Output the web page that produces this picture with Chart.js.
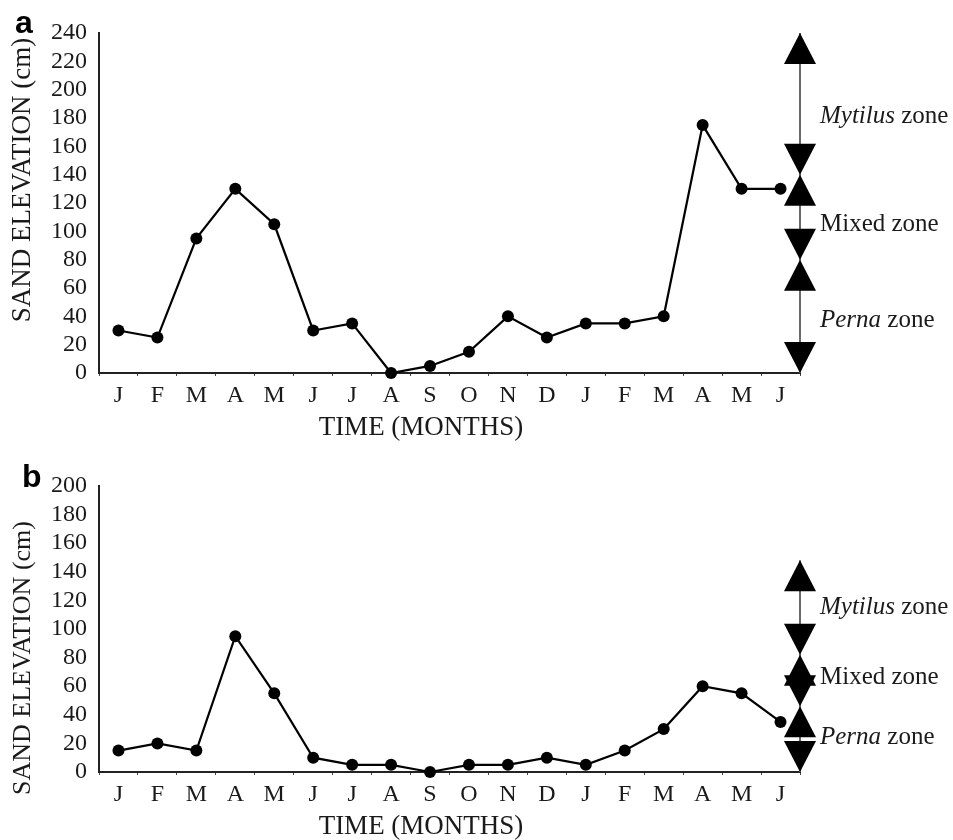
<!DOCTYPE html>
<html><head><meta charset="utf-8">
<script src="https://cdn.jsdelivr.net/npm/chart.js@4.4.0/dist/chart.umd.min.js"></script>
<style>
html,body{margin:0;padding:0;background:#fff}
body{width:953px;height:840px;position:relative;overflow:hidden}
canvas{position:absolute;left:0}
</style></head><body>
<canvas id="cA" width="953" height="450" style="top:0px"></canvas>
<canvas id="cB" width="953" height="390" style="top:450px"></canvas>
<script>
// ---- data ----
const months = ['J','F','M','A','M','J','J','A','S','O','N','D','J','F','M','A','M','J'];
const elevationA = [30,25,95,130,105,30,35,0,5,15,40,25,35,35,40,175,130,130];
const elevationB = [15,20,15,95,55,10,5,5,0,5,5,10,5,15,30,60,55,35];
const yMaxA = 240, yMaxB = 200, yStep = 20;
const zoneNames = ['Perna','Mixed','Mytilus'];
const zoneItalic = [true,false,true];
const zoneEdgesA = [0,80,140,240];
const zoneEdgesB = [0,46,82,148];
const zoneLabelAtA = [37,105,181];
const zoneLabelAtB = [24,66,115];
const yTitle = 'SAND ELEVATION (cm)';
const xTitle = 'TIME (MONTHS)';

const SERIF = "'Liberation Serif','Times New Roman',serif";
const INK = '#1a1a1a';

function makePlugin(edges, labelAt, panel, panelX, panelY, yTitleCY, yTitleSize){
  return {
    id:'extras',
    afterDatasetsDraw(chart){
      const {ctx, chartArea, scales:{y}} = chart;
      const x = chartArea.right, w = 16, h = 31;
      ctx.save();
      // connecting line
      ctx.strokeStyle = '#6a6a6a'; ctx.lineWidth = 2;
      ctx.beginPath();
      ctx.moveTo(x, y.getPixelForValue(edges[edges.length-1]));
      ctx.lineTo(x, y.getPixelForValue(edges[0]));
      ctx.stroke();
      ctx.fillStyle = '#000';
      for (let i = 0; i < edges.length-1; i++){
        const lo = y.getPixelForValue(edges[i]);
        const hi = y.getPixelForValue(edges[i+1]);
        ctx.beginPath(); ctx.moveTo(x,hi); ctx.lineTo(x-w,hi+h); ctx.lineTo(x+w,hi+h); ctx.closePath(); ctx.fill();
        ctx.beginPath(); ctx.moveTo(x,lo); ctx.lineTo(x-w,lo-h); ctx.lineTo(x+w,lo-h); ctx.closePath(); ctx.fill();
      }
      // zone labels
      ctx.textBaseline = 'middle'; ctx.textAlign = 'left'; ctx.fillStyle = INK;
      for (let i = 0; i < zoneNames.length; i++){
        const ly = y.getPixelForValue(labelAt[i]);
        let tx = x + 20;
        ctx.font = (zoneItalic[i] ? 'italic ' : '') + '25px ' + SERIF;
        ctx.fillText(zoneNames[i], tx, ly);
        tx += ctx.measureText(zoneNames[i]).width;
        ctx.font = '25px ' + SERIF;
        ctx.fillText(' zone', tx, ly);
      }
      // x axis title
      ctx.font = '27px ' + SERIF; ctx.textAlign = 'center';
      ctx.fillText(xTitle, chartArea.left + 322, chartArea.bottom + 55);
      // y axis title
      ctx.save();
      ctx.translate(23, yTitleCY);
      ctx.rotate(-Math.PI/2);
      ctx.font = yTitleSize + 'px ' + SERIF;
      ctx.fillText(yTitle, 0, 0);
      ctx.restore();
      // panel letter
      ctx.font = "bold 32px 'Liberation Sans',Arial,sans-serif"; ctx.textAlign = 'left'; ctx.textBaseline = 'alphabetic';
      ctx.fillStyle = '#000';
      ctx.fillText(panel, panelX, panelY);
      ctx.restore();
    }
  };
}

function makeChart(id, data, yMax, edges, labelAt, panel, panelX, panelY, padTop, xAxisH, yTitleCY, yTitleSize){
  return new Chart(document.getElementById(id), {
    type:'line',
    data:{ labels: months, datasets:[{ data, borderColor:'#000', borderWidth:2.2, pointRadius:6, pointHoverRadius:6,
      pointBackgroundColor:'#000', pointBorderWidth:0, tension:0, clip:false, fill:false }]},
    options:{
      responsive:false, animation:false, events:[],
      layout:{ padding:{ left:0, right:153, top:padTop, bottom:0 } },
      plugins:{ legend:{display:false}, tooltip:{enabled:false} },
      scales:{
        x:{ type:'category', offset:true,
          grid:{ display:true, drawOnChartArea:false, drawTicks:true, tickLength:3, color:'#444', lineWidth:1, offset:true },
          border:{ display:true, color:'#222', width:2 },
          ticks:{ font:{family:SERIF, size:24}, color:INK, padding:5, maxRotation:0, autoSkip:false },
          afterFit(s){ s.height = xAxisH; } },
        y:{ min:0, max:yMax,
          ticks:{ stepSize:yStep, font:{family:SERIF, size:24}, color:INK, padding:12, autoSkip:false },
          grid:{ display:false, drawTicks:false },
          border:{ display:true, color:'#222', width:2 },
          title:{ display:false },
          afterFit(s){ s.width = 99; } }
      }
    },
    plugins:[ makePlugin(edges, labelAt, panel, panelX, panelY, yTitleCY, yTitleSize) ]
  });
}

makeChart('cA', elevationA, yMaxA, zoneEdgesA, zoneLabelAtA, 'a', 15, 33, 33, 77, 180, 27);
makeChart('cB', elevationB, yMaxB, zoneEdgesB, zoneLabelAtB, 'b', 22, 37, 36, 68, 208, 26);
</script>
</body></html>
